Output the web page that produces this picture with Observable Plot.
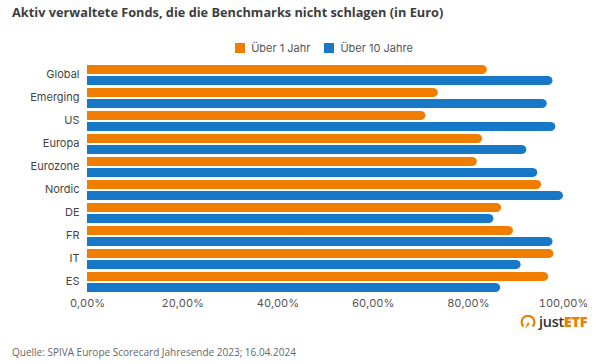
<!DOCTYPE html>
<html><head><meta charset="utf-8">
<script src="https://cdn.jsdelivr.net/npm/d3@7"></script>
<script src="https://cdn.jsdelivr.net/npm/@observablehq/plot@0.6"></script>
<style>
body{margin:0;width:610px;height:364px;background:#fff;position:relative;overflow:hidden;font-family:Inter,"Noto Sans",sans-serif;}
#title{position:absolute;left:12px;top:3px;font-family:"Open Sans";font-weight:700;font-size:12.75px;color:#3d3d3d;white-space:nowrap}
#legend{position:absolute;left:0;width:610px;top:41px;display:flex;justify-content:center;gap:14px;font-size:11px;color:#555;padding-left:38px;box-sizing:border-box}
#legend span.item{display:flex;align-items:center;gap:6px}
#legend span.sw{width:10px;height:10px;display:inline-block}
#chart{position:absolute;left:0;top:50px}
#logo{position:absolute;left:520px;top:312px;display:flex;align-items:center;gap:3px;font-family:"Open Sans";font-size:14.5px;font-weight:600;color:#333;letter-spacing:-0.3px}
#logo b{color:#ef7d00;font-weight:800}
#caption{position:absolute;left:12px;top:345px;font-family:"Open Sans";font-size:10px;color:#666;white-space:nowrap}
</style></head>
<body>
<div id="title">Aktiv verwaltete Fonds, die die Benchmarks nicht schlagen (in Euro)</div>
<div id="legend"></div>
<div id="chart"></div>
<div id="logo"><svg width="16" height="16" viewBox="0 0 15 15"><path d="M3.2 11.8 A6 6 0 1 1 11.8 11.8" fill="none" stroke="#ef7d00" stroke-width="2"/><path d="M4.5 13.5 L7.5 7.5 L9 9.5 Z" fill="#ef7d00"/></svg><span>just<b>ETF</b></span></div>
<div id="caption">Quelle: SPIVA Europe Scorecard Jahresende 2023; 16.04.2024</div>
<script>
const categories = ["Global","Emerging","US","Europa","Eurozone","Nordic","DE","FR","IT","ES"];
const series = ["Über 1 Jahr","Über 10 Jahre"];
const over1Year = [84.0,73.7,71.1,83.0,81.9,95.4,87.0,89.5,98.0,96.9];
const over10Years = [97.8,96.6,98.4,92.3,94.6,100,85.4,97.8,91.1,86.8];
const xTicks = [0,20,40,60,80,100];
const colors = ["#ef7d00","#1778c8"];

const rows = [];
categories.forEach((c,i)=>{
  rows.push({cat:c, series:series[0], value:over1Year[i]});
  rows.push({cat:c, series:series[1], value:over10Years[i]});
});

const leg = document.getElementById("legend");
series.forEach((s,i)=>{
  const it = document.createElement("span"); it.className="item";
  const sw = document.createElement("span"); sw.className="sw"; sw.style.background=colors[i];
  const tx = document.createElement("span"); tx.textContent=s;
  it.appendChild(sw); it.appendChild(tx); leg.appendChild(it);
});

const fmt = d => d.toFixed(2).replace(".", ",") + "%";
const chart = Plot.plot({
  width:610, height:265,
  marginLeft:87, marginRight:47, marginTop:13, marginBottom:20,
  style:{fontFamily:"Inter, sans-serif", fontSize:"11px", background:"transparent"},
  x:{domain:[0,100]},
  fy:{domain:categories, padding:0},
  y:{domain:series, paddingInner:0.16, paddingOuter:0.08, axis:null},
  color:{domain:series, range:colors},
  marks:[
    Plot.barX(rows,{fy:"cat", y:"series", x:"value", fill:"series", rx:5}),
    Plot.barX(rows,{fy:"cat", y:"series", x1:0, x2:d=>d.value/2, fill:"series"}),
    Plot.axisX({ticks:xTicks, tickFormat:fmt, tickSize:0, tickPadding:5, fill:"#555", label:null}),
    Plot.axisFy({anchor:"left", tickSize:0, tickPadding:8, fill:"#444", label:null, dy:-2})
  ]
});
document.getElementById("chart").appendChild(chart);
</script>
</body></html>
